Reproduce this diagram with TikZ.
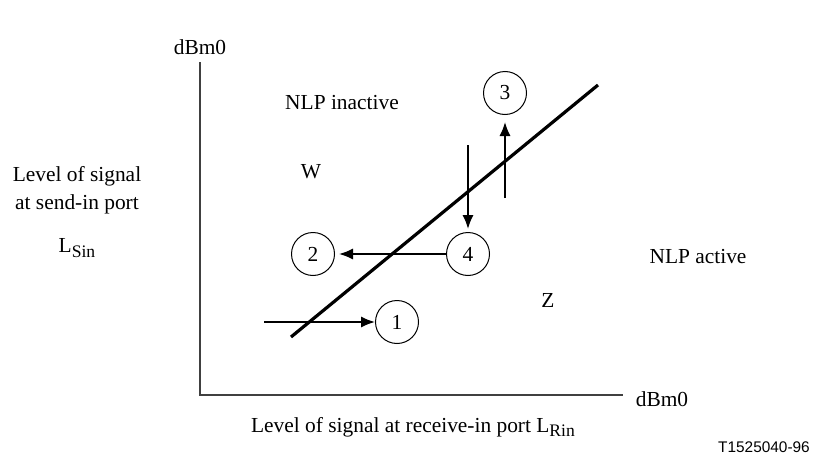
\documentclass[tikz,border=0pt]{standalone}
\usepackage{fontspec}
\setmainfont{Liberation Serif}
\newfontfamily\figidfont{Liberation Sans}
\usetikzlibrary{arrows.meta}
\newcommand{\lowsub}[1]{\raisebox{-0.45ex}{\fontsize{8.8pt}{10pt}\selectfont #1}}

\begin{document}
\begin{tikzpicture}[x=0.5pt, y=-0.5pt, >={Latex[length=7pt,width=5.6pt]},
		font=\fontsize{10.7pt}{13pt}\selectfont,
		axis/.style={draw=black!75, line width=0.6pt},
		stateno/.style={circle, draw, line width=0.5pt, minimum size=21.5pt, inner sep=0pt},
		move/.style={->, line width=0.9pt},
		border/.style={line width=1.6pt}]
				% Bildbereich
				\useasboundingbox (0,0) rectangle (835,466);
				% Achsen zeichnen
				\coordinate (O) at (200,395);
				\coordinate (ytop) at (200,62);
				\coordinate (xend) at (623,395);
				\draw[axis] (ytop) -- (O) -- (xend);
				% Achsen beschriften
				\node (yunit) at (200,47) {dBm0};
				\node (xunit) at (662,399) {dBm0};
				\node[align=center] (ylab) at (77,190) {Level of signal\\[1pt]at send-in port};
				\node (ysym) at (77,248) {L\lowsub{Sin}};
				\node (xlab) at (413,427) {Level of signal at receive-in port L\lowsub{Rin}};
				\node[font=\figidfont\fontsize{7.7pt}{10pt}\selectfont] (figid) at (764,447) {T1525040-96};
				% Grenzlinie
				\coordinate (b0) at (291,337);
				\coordinate (b1) at (598,85);
				\draw[border] (b0) -- (b1);
				% Bereiche
				\node (inact) at (342,103) {NLP inactive};
				\node (act) at (698,257) {NLP active};
				\node (W) at (311,172) {W};
				\node (Z) at (548,300) {Z};
				% Zustaende
				\node[stateno] (n1) at (397,322) {1};
				\node[stateno] (n2) at (313,254) {2};
				\node[stateno] (n3) at (505,93) {3};
				\node[stateno] (n4) at (468,254) {4};
				% Uebergaenge
				\coordinate (s1) at (264,322);
				\coordinate (s3) at (505,198);
				\coordinate (s4) at (468,145);
				\draw[move] (s1) -- (n1);
				\draw[move, shorten >=2pt] (n4) -- (n2);
				\draw[move, shorten >=3.5pt] (s3) -- (n3);
				\draw[move, shorten >=1.5pt] (s4) -- (n4);
		\end{tikzpicture}
\end{document}
